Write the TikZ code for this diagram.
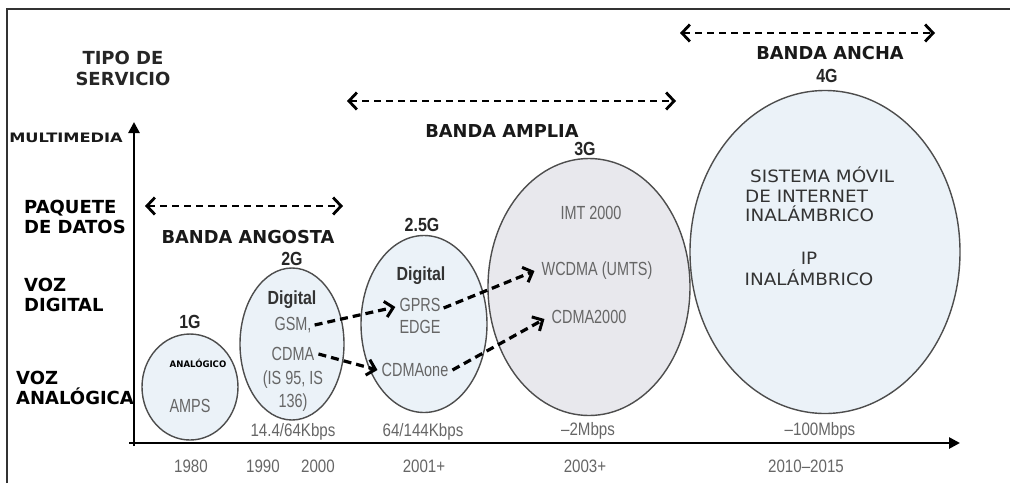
\documentclass[tikz,border=0pt]{standalone}
\usepackage{fontspec}
\setmainfont{DejaVu Sans}
\newfontfamily\narrowfont{Liberation Sans}
\newfontfamily\wideserif{DejaVu Sans}
\usetikzlibrary{arrows.meta,shapes.geometric}
\definecolor{gentxt}{HTML}{666666}
\definecolor{genfill}{HTML}{EBF2F8}
\definecolor{genfillb}{HTML}{E8E8ED}
\definecolor{genline}{HTML}{4D4D4D}
\newcommand{\nar}[1]{\scalebox{0.76}[1]{#1}}
\newcommand{\narr}[1]{\scalebox{0.84}[1]{#1}}
\newcommand{\narb}[1]{\scalebox{0.84}[1]{#1}}
\newcommand{\wid}[1]{\scalebox{1.08}[1]{#1}}
\tikzset{
  gen/.style={ellipse, draw=genline, line width=1.4pt, fill=genfill, inner sep=0pt},
  axislbl/.style={font=\fontsize{18}{20.5}\selectfont\bfseries, align=left, anchor=west, inner sep=0pt, text=black},
  bandlbl/.style={font=\fontsize{17.8}{20}\selectfont\bfseries, inner sep=0pt, text=black!90},
  glbl/.style={font=\narrowfont\fontsize{19}{20}\selectfont\bfseries, inner sep=0pt, text=black!85},
  tech/.style={font=\narrowfont\fontsize{19}{21}\selectfont, inner sep=1pt, text=gentxt},
  techb/.style={font=\narrowfont\fontsize{19}{21}\selectfont\bfseries, inner sep=1pt, text=black!80},
  rate/.style={font=\narrowfont\fontsize{18}{19}\selectfont, inner sep=0pt, text=gentxt},
  band/.style={line width=2.4pt, dash pattern=on 7pt off 5pt, {Straight Barb[length=8pt,width=17pt,line width=2.8pt]}-{Straight Barb[length=8pt,width=17pt,line width=2.8pt]}},
  flow/.style={line width=3.2pt, dash pattern=on 8pt off 5pt, -{Straight Barb[length=8pt,width=16pt,line width=3pt]}},
  axis/.style={line width=2.6pt, -{Triangle[length=11pt,width=11pt]}},
}
\begin{document}
\begin{tikzpicture}[x=1pt,y=-1pt]
\useasboundingbox (0,0) rectangle (1010,483);
\fill[white] (0,0) rectangle (1010,483);
% frame
\draw[line width=1.6pt, black!80] (7,483) -- (7,9) -- (1010,9);

% generation ellipses
\node[gen, minimum width=96pt, minimum height=106pt] (g1) at (190,387) {};
\node[gen, minimum width=104pt, minimum height=152pt] (g2) at (292,344) {};
\node[gen, minimum width=126pt, minimum height=177pt] (g25) at (424,324) {};
\node[gen, fill=genfillb, minimum width=202pt, minimum height=257pt] (g3) at (589,287) {};
\node[gen, minimum width=270pt, minimum height=323pt] (g4) at (825,252) {};

% axes
\coordinate (orig) at (134,446);
\coordinate (ytop) at (134,122);
\coordinate (xstart) at (129,443);
\coordinate (xend) at (960,443);
\draw[axis] (orig) -- (ytop);
\draw[axis] (xstart) -- (xend);

% vertical axis labels
\node[font=\fontsize{18}{21}\selectfont\bfseries, align=center, text=black!85] (tipo) at (123,68) {TIPO DE\\SERVICIO};
\node[font=\fontsize{13}{15}\selectfont\bfseries, inner sep=0pt, anchor=east, text=black!90] (multi) at (123,138) {\scalebox{1.25}[1]{MULTIMEDIA}};
\node[axislbl] (paq) at (24,217) {PAQUETE\\DE DATOS};
\node[axislbl] (vdig) at (24,295) {VOZ\\DIGITAL};
\node[axislbl] (vana) at (16,388) {VOZ\\ANALÓGICA};

% band ranges
\coordinate (bnl) at (145,206);
\coordinate (bnr) at (343,206);
\draw[band] (bnl) -- (bnr);
\node[bandlbl] (bn) at (248,237) {BANDA ANGOSTA};
\coordinate (bal) at (347,101);
\coordinate (bar) at (676,101);
\draw[band] (bal) -- (bar);
\node[bandlbl] (ba) at (502,131) {BANDA AMPLIA};
\coordinate (bcl) at (680,33);
\coordinate (bcr) at (935,33);
\draw[band] (bcl) -- (bcr);
\node[bandlbl] (bc) at (830,53) {BANDA ANCHA};

% generation labels
\node[glbl] (l1) at (190,322) {\narb{1G}};
\node[glbl] (l2) at (292,259) {\narb{2G}};
\node[glbl] (l25) at (422,225) {\narb{2.5G}};
\node[glbl] (l3) at (585,149) {\narb{3G}};
\node[glbl] (l4) at (827,76) {\narb{4G}};

% 1G
\node[font=\fontsize{9}{10}\selectfont\bfseries, inner sep=0pt] (ana) at (198,363) {\scalebox{0.95}[1]{ANALÓGICO}};
\node[tech] (amps) at (190,406) {\nar{AMPS}};
% 2G
\node[techb] (dig2) at (292,300) {\narb{Digital}};
\node[tech] (gsm) at (293,325) {\nar{GSM,}};
\node[tech] (cdma) at (293,354) {\nar{CDMA}};
\node[tech] (is95) at (293,380) {\nar{(IS 95, IS}};
\node[tech] (is136) at (293,403) {\nar{136)}};
% 2.5G
\node[techb] (dig25) at (421,276) {\narb{Digital}};
\node[tech] (gprs) at (420,305) {\nar{GPRS}};
\node[tech] (edge) at (420,327) {\nar{EDGE}};
\node[tech] (cdmaone) at (415,370) {\nar{CDMAone}};
% 3G
\node[tech] (imt) at (591,213) {\nar{IMT 2000}};
\node[tech] (wcdma) at (597,271) {\nar{WCDMA (UMTS)}};
\node[tech] (cdma2k) at (589,317) {\nar{CDMA2000}};
% 4G
\node[font=\wideserif\fontsize{17}{19.5}\selectfont, align=left, text=black!80, inner sep=0pt, anchor=north west] (sis) at (745,167) {\hspace*{5pt}\wid{SISTEMA MÓVIL}\\\wid{DE INTERNET}\\\wid{INALÁMBRICO}};
\node[font=\wideserif\fontsize{17}{21}\selectfont, align=center, text=black!80, inner sep=0pt] (ip) at (809,269) {\wid{IP}\\\wid{INALÁMBRICO}};

% data rates
\node[rate] (r2) at (293,432) {\narr{14.4/64Kbps}};
\node[rate] (r25) at (423,432) {\narr{64/144Kbps}};
\node[rate] (r3) at (588,431) {\narr{–2Mbps}};
\node[rate] (r4) at (820,431) {\narr{–100Mbps}};

% years
\node[rate] (y1) at (191,466) {\narr{1980}};
\node[rate] (y2a) at (263,466) {\narr{1990}};
\node[rate] (y2b) at (318,466) {\narr{2000}};
\node[rate] (y25) at (424,466) {\narr{2001+}};
\node[rate] (y3) at (585,466) {\narr{2003+}};
\node[rate] (y4) at (806,466) {\narr{2010–2015}};

% migration paths
\draw[flow] ([xshift=2pt]gsm.east) -- ([xshift=-3pt,yshift=-2pt]gprs.west);
\draw[flow] ([xshift=3pt]cdma.east) -- ([xshift=-3pt]cdmaone.west);
\draw[flow] ([xshift=2pt,yshift=-3pt]gprs.east) -- ([xshift=-6pt]wcdma.west);
\draw[flow] ([xshift=3pt]cdmaone.east) -- ([xshift=-6pt,yshift=-2pt]cdma2k.west);
\end{tikzpicture}
\end{document}
